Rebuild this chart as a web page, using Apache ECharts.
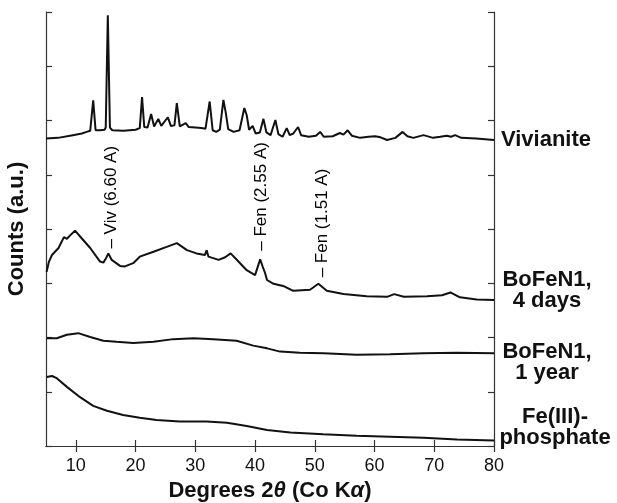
<!DOCTYPE html>
<html>
<head>
<meta charset="utf-8">
<script src="https://cdn.jsdelivr.net/npm/echarts@6/dist/echarts.min.js"></script>
<style>html,body{margin:0;padding:0;background:#fff}#c{width:617px;height:503px}</style>
</head>
<body>
<div id="c"></div>
<script>
const xTicks = [10, 20, 30, 40, 50, 60, 70, 80];
const seriesNames = ['Vivianite', 'BoFeN1,\n4 days', 'BoFeN1,\n1 year', 'Fe(III)-\nphosphate'];

const vivianite = [[5,5.67],[7,5.68],[9.5,5.73],[11,5.76],[11.8,5.79],[12.4,5.81],[12.9,6.37],[13.3,5.82],[14,5.82],[14.8,5.83],[15.0,5.87],[15.35,7.94],[15.7,5.87],[16.1,5.82],[18,5.81],[20,5.83],[20.7,5.86],[21.08,6.43],[21.45,5.88],[22.0,5.87],[22.6,6.12],[23.1,5.89],[23.8,6.03],[24.3,5.90],[25.4,6.06],[25.9,5.90],[26.5,5.91],[26.9,6.32],[27.4,5.89],[28.4,5.95],[28.9,5.88],[30,5.87],[31.0,5.86],[31.3,5.89],[31.7,5.85],[32.4,6.35],[32.9,5.82],[33.5,5.79],[34.1,5.83],[34.7,6.38],[35.1,6.14],[35.5,5.84],[36.4,5.79],[37.4,5.82],[38.2,6.23],[38.6,6.10],[39.0,5.83],[39.6,5.90],[40.1,5.76],[40.8,5.78],[41.4,6.03],[41.9,5.78],[42.6,5.73],[43.4,6.01],[43.9,5.75],[44.6,5.70],[45.3,5.86],[45.8,5.73],[46.4,5.76],[47.2,5.88],[47.7,5.73],[49,5.70],[50.2,5.72],[50.9,5.79],[51.5,5.70],[53,5.71],[54.2,5.77],[54.8,5.74],[55.5,5.82],[56.2,5.72],[57.6,5.68],[59,5.70],[60.1,5.71],[61,5.69],[62.1,5.64],[63.5,5.68],[64.7,5.79],[65.5,5.71],[66.5,5.68],[68.2,5.73],[69.8,5.68],[71,5.70],[72.1,5.72],[72.8,5.70],[73.5,5.73],[74.5,5.68],[77,5.67],[80,5.64]];

const bofen4days = [[5.1,3.21],[5.5,3.40],[6.0,3.52],[7.1,3.65],[8.0,3.85],[8.5,3.82],[9.2,3.90],[9.86,3.97],[10.97,3.83],[12.4,3.65],[14.05,3.40],[14.6,3.38],[15.0,3.45],[15.44,3.55],[16.0,3.43],[17.4,3.32],[18.2,3.31],[19.6,3.37],[20.7,3.49],[23.0,3.58],[25.2,3.67],[26.9,3.74],[28.6,3.61],[30.2,3.55],[31.6,3.52],[31.9,3.61],[32.2,3.49],[33.9,3.43],[35.0,3.48],[35.9,3.55],[36.7,3.46],[38.6,3.24],[40.0,3.15],[40.85,3.44],[41.3,3.30],[41.7,3.18],[42.0,3.06],[43.1,2.99],[44.7,2.95],[46.4,2.86],[49.2,2.88],[50.6,2.99],[52.0,2.86],[54.8,2.80],[58.7,2.76],[62.1,2.75],[63.3,2.80],[64.9,2.75],[68.8,2.76],[71.3,2.78],[72.7,2.83],[74.3,2.74],[77.1,2.70],[80,2.69]];

const bofen1year = [[5.1,1.985],[6.8,1.985],[8.5,2.05],[10.4,2.08],[12.4,2.01],[14.6,1.94],[16.8,1.92],[19.6,1.90],[23.0,1.92],[26.3,1.97],[29.7,1.985],[33.0,1.97],[36.9,1.94],[39.7,1.85],[42.0,1.80],[44.2,1.74],[47.5,1.72],[51.5,1.71],[57.0,1.68],[62.6,1.69],[68.2,1.71],[73.8,1.72],[80,1.71]];

const fe3phosphate = [[5.1,1.27],[6.0,1.29],[6.8,1.25],[8.5,1.09],[10.7,0.90],[12.9,0.74],[15.2,0.65],[17.9,0.57],[20.7,0.52],[23.5,0.48],[27.4,0.45],[31.9,0.45],[35.3,0.43],[38.6,0.37],[42.0,0.295],[45.9,0.25],[51.4,0.215],[57.0,0.19],[62.6,0.17],[68.2,0.15],[73.8,0.12],[80,0.10]];

const annotX = [15.9, 41.0, 51.3];
const annotY = [3.63, 3.59, 3.10];
const annotText = ['\u2013 Viv (6.60 A)', '\u2013 Fen (2.55 A)', '\u2013 Fen (1.51 A)'];

const FONT = '"Liberation Sans", Arial, Helvetica, sans-serif';
const INK = '#111111';
const labelOffsets = [[52, 0], [53, -10], [53, 9], [61, -13]];
const allData = [vivianite, bofen4days, bofen1year, fe3phosphate];

const chart = echarts.init(document.getElementById('c'), null, {renderer: 'canvas'});

const axisLine = {show: true, lineStyle: {color: '#333', width: 1.2}};
const axisTick = {show: true, inside: true, length: 6, lineStyle: {color: '#333', width: 1.2}};

const lineSeries = allData.map((d, i) => ({
  type: 'line',
  name: seriesNames[i],
  data: d,
  symbol: 'none',
  smooth: false,
  lineStyle: {color: INK, width: 2},
  endLabel: {
    show: true,
    formatter: seriesNames[i],
    color: INK,
    fontFamily: FONT,
    fontWeight: 'bold',
    fontSize: 22,
    lineHeight: 21,
    align: 'center',
    verticalAlign: 'middle',
    distance: 0,
    offset: labelOffsets[i]
  }
}));

const annotSeries = {
  type: 'scatter',
  data: annotX.map((x, i) => [x, annotY[i], annotText[i]]),
  symbolSize: 1,
  itemStyle: {color: 'rgba(255,255,255,0)'},
  label: {
    show: true,
    position: 'top',
    distance: 0,
    rotate: 90,
    align: 'left',
    verticalAlign: 'middle',
    formatter: p => p.data[2],
    color: '#000',
    opacity: 1,
    fontFamily: FONT,
    fontSize: 17
  },
  emphasis: {disabled: true},
  z: 5
};

chart.setOption({
  animation: false,
  backgroundColor: '#fff',
  grid: {left: 46, right: 123, top: 12, bottom: 57, outerBoundsMode: 'none', containLabel: false},
  xAxis: [
    {
      type: 'value', min: 5, max: 80, position: 'bottom',
      name: 'Degrees 2{i|\u03b8} (Co K{i|\u03b1})',
      nameLocation: 'middle', nameGap: 32,
      nameTextStyle: {fontFamily: FONT, fontWeight: 'bold', fontSize: 22, color: INK,
        rich: {i: {fontFamily: FONT, fontWeight: 'bold', fontStyle: 'italic', fontSize: 22, color: INK}}},
      axisLine: axisLine,
      axisTick: Object.assign({customValues: xTicks}, axisTick),
      axisLabel: {customValues: xTicks, fontFamily: FONT, fontSize: 18, color: INK, margin: 11},
      splitLine: {show: false}
    },
    {
      type: 'value', min: 5, max: 80, position: 'top',
      axisLine: axisLine,
      axisTick: Object.assign({customValues: xTicks}, axisTick),
      axisLabel: {show: false},
      splitLine: {show: false}
    }
  ],
  yAxis: [
    {
      type: 'value', min: 0, max: 8, interval: 1, position: 'left',
      name: 'Counts (a.u.)', nameLocation: 'middle', nameGap: 18,
      nameTextStyle: {fontFamily: FONT, fontWeight: 'bold', fontSize: 22, color: INK},
      axisLine: axisLine, axisTick: axisTick,
      axisLabel: {show: false}, splitLine: {show: false}
    },
    {
      type: 'value', min: 0, max: 8, interval: 1, position: 'right',
      axisLine: axisLine, axisTick: axisTick,
      axisLabel: {show: false}, splitLine: {show: false}
    }
  ],
  series: lineSeries.concat([annotSeries])
});
</script>
</body>
</html>
